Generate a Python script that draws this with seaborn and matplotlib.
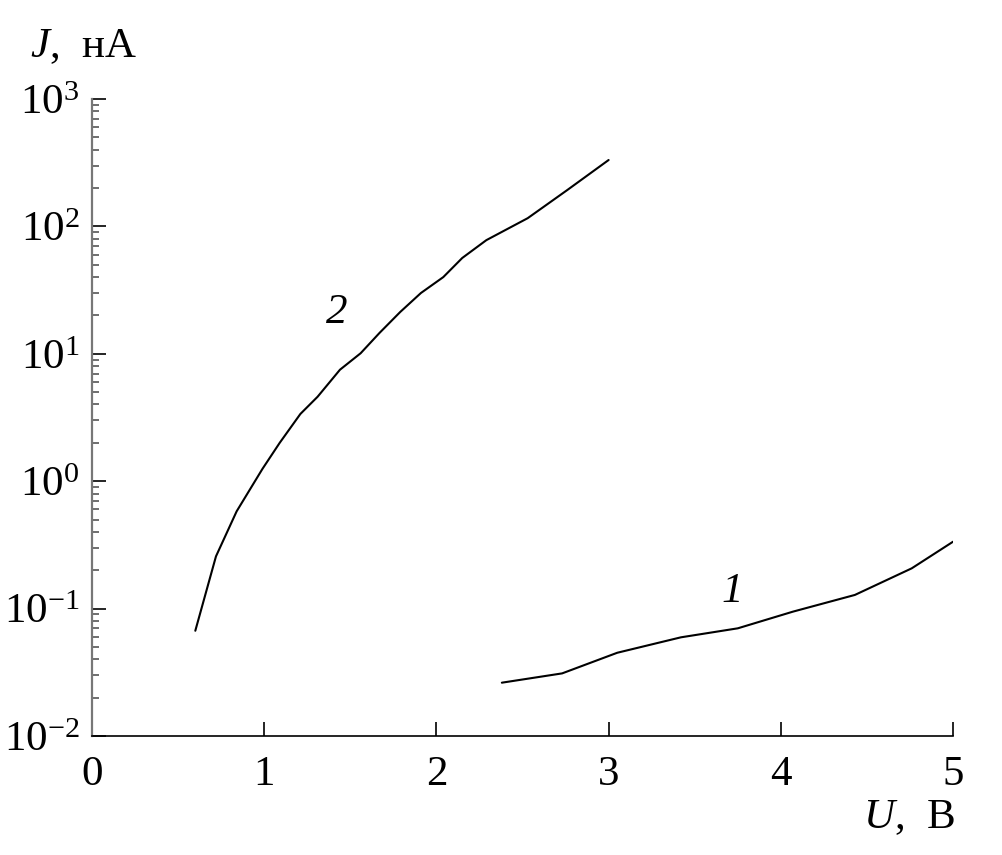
import matplotlib
matplotlib.use("Agg")
import matplotlib.pyplot as plt
import matplotlib.ticker as mticker
import seaborn as sns
import numpy as np
import pandas as pd

# ---- data ----
u_curve2 = [0.60, 0.72, 0.84, 0.99, 1.09, 1.21, 1.31, 1.44, 1.56, 1.67, 1.79, 1.91, 2.04, 2.15, 2.29, 2.53, 2.76, 3.00]
j_curve2 = [0.067, 0.257, 0.58, 1.25, 2.0, 3.37, 4.6, 7.5, 10.1, 14.6, 21.3, 30.0, 40.0, 56.5, 78.0, 116.0, 193.0, 332.0]
u_curve1 = [2.38, 2.73, 3.05, 3.42, 3.75, 4.07, 4.43, 4.76, 5.00]
j_curve1 = [0.0262, 0.031, 0.045, 0.0595, 0.070, 0.0946, 0.128, 0.207, 0.335]
curve_labels = ["1", "2"]
x_ticks = [0, 1, 2, 3, 4, 5]
y_decades = [1e-2, 1e-1, 1e0, 1e1, 1e2, 1e3]

df = pd.concat([
    pd.DataFrame({"U": u_curve1, "J": j_curve1, "curve": curve_labels[0]}),
    pd.DataFrame({"U": u_curve2, "J": j_curve2, "curve": curve_labels[1]}),
])

sns.set_style("ticks")
plt.rcParams["font.family"] = ["Liberation Serif", "DejaVu Serif"]
plt.rcParams["mathtext.fontset"] = "custom"
plt.rcParams["mathtext.rm"] = "Liberation Serif"
plt.rcParams["mathtext.it"] = "Liberation Serif:italic"
plt.rcParams["mathtext.bf"] = "Liberation Serif:bold"
plt.rcParams["text.color"] = "black"
plt.rcParams["xtick.color"] = "black"
plt.rcParams["ytick.color"] = "black"
plt.rcParams["xtick.labelcolor"] = "black"
plt.rcParams["ytick.labelcolor"] = "black"

fig = plt.figure(figsize=(10.03, 8.55), dpi=100)
ax = fig.add_axes([0.0917, 0.1392, 0.9502 - 0.0917, 0.8842 - 0.1392])

sns.lineplot(data=df, x="U", y="J", units="curve", estimator=None, sort=False,
             color="black", linewidth=1.5, ax=ax, legend=False)

ax.set_yscale("log")
ax.set_xlim(0, 5)
ax.set_ylim(1e-2, 1e3)
ax.set_xticks(x_ticks)
ax.set_xticklabels([str(t) for t in x_ticks])
ax.yaxis.set_major_locator(mticker.FixedLocator(y_decades))
ax.yaxis.set_major_formatter(mticker.LogFormatterSciNotation())
ax.yaxis.set_minor_locator(mticker.LogLocator(base=10, subs=np.arange(2, 10), numticks=20))
ax.yaxis.set_minor_formatter(mticker.NullFormatter())

ax.set_xlabel("")
ax.set_ylabel("")
for s in ["top", "right"]:
    ax.spines[s].set_visible(False)
ax.spines["left"].set_color("#777777")
ax.spines["left"].set_linewidth(1.6)
ax.spines["bottom"].set_color("black")
ax.spines["bottom"].set_linewidth(1.2)

ax.tick_params(axis="x", which="major", direction="in", length=10, width=1.2,
               color="black", labelsize=31, pad=14, labelcolor="black")
ax.tick_params(axis="y", which="major", direction="in", length=10, width=1.2,
               color="black", labelsize=31, pad=9, labelcolor="black")
ax.tick_params(axis="y", which="minor", direction="in", length=5, width=1.2,
               color="#555555")

# curve labels
ax.text(1.42, 21, "2", fontsize=31, style="italic", ha="center", va="center", color="black")
ax.text(3.72, 0.135, "1", fontsize=31, style="italic", ha="center", va="center", color="black")

# axis titles
fig.text(30 / 1003, 1 - 57 / 855, "$J$,\u2002нА", fontsize=31, ha="left", va="baseline", color="black")
fig.text(955 / 1003, 1 - 828 / 855, "$U$,\u2002В", fontsize=31, ha="right", va="baseline", color="black")

fig.savefig("out.png", dpi=100, facecolor="white")
